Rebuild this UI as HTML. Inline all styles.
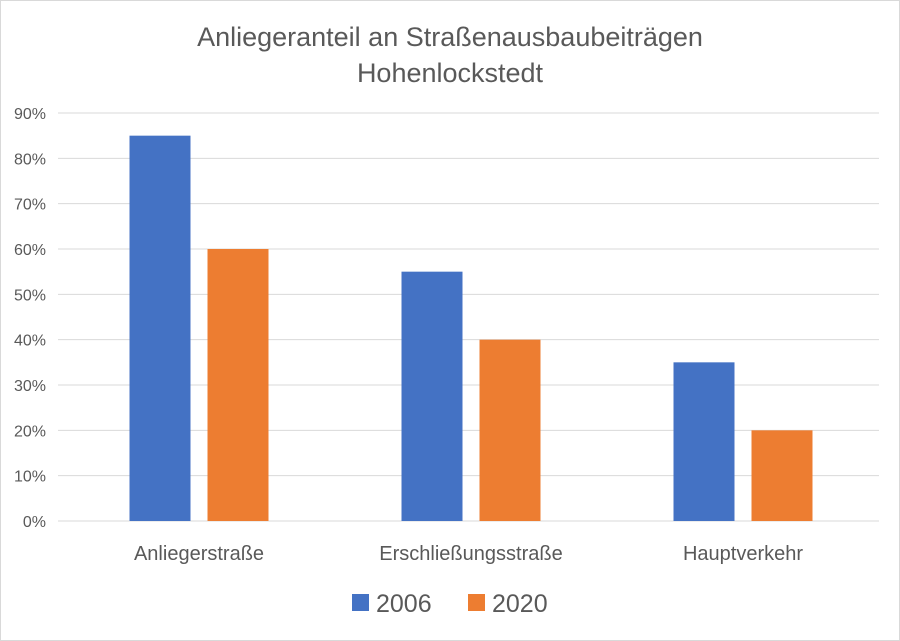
<!DOCTYPE html>
<html><head><meta charset="utf-8"><style>
body{margin:0;background:#fff;}
svg{display:block;font-family:"Liberation Sans",sans-serif;}
</style></head><body>
<svg id="chart" width="900" height="641" viewBox="0 0 900 641">
<rect x="0.5" y="0.5" width="899" height="640" fill="#fff" stroke="#d9d9d9"/>
<text x="450" y="46" text-anchor="middle" font-size="27" fill="#595959">Anlieger­anteil an Straßenausbaubeiträgen</text>
<text x="450" y="82" text-anchor="middle" font-size="27" fill="#595959">Hohenlockstedt</text>
<g id="grid"></g><g id="bars"></g><g id="labels"></g>
<rect x="352" y="594" width="17" height="17" fill="#4472c4"/>
<text x="376" y="612" font-size="25" fill="#595959">2006</text>
<rect x="468" y="594" width="17" height="17" fill="#ed7d31"/>
<text x="492" y="612" font-size="25" fill="#595959">2020</text>
</svg>
<script>
const categories=["Anliegerstraße","Erschließungsstraße","Hauptverkehr"];
const series2006=[85,55,35];
const series2020=[60,40,20];
const yTicks=[0,10,20,30,40,50,60,70,80,90];
const NS="http://www.w3.org/2000/svg";
const left=63,right=879,y0=521,y90=113;
const y=v=>y0-(v/90)*(y0-y90);
const bandW=(right-left)/categories.length;
const cx=i=>left+bandW*(i+0.5);
const bw=61,gap=17;
const grid=document.getElementById('grid'),bars=document.getElementById('bars'),labels=document.getElementById('labels');
function mk(tag,attrs,parent){const e=document.createElementNS(NS,tag);for(const k in attrs)e.setAttribute(k,attrs[k]);parent.appendChild(e);return e;}
yTicks.forEach(t=>{
  const l=mk('line',{x1:left-5,x2:right,y1:y(t),y2:y(t),stroke:'#d9d9d9','stroke-width':1},grid);
  
  
  const tx=mk('text',{x:46,y:y(t)+6,'text-anchor':'end','font-size':16,fill:'#595959'},labels);
  tx.textContent=t+'%';
  
  
});
categories.forEach((c,i)=>{
  const b1=mk('rect',{x:cx(i)-gap/2-bw,y:y(series2006[i]),width:bw,height:y0-y(series2006[i]),fill:'#4472c4'},bars);
  
  
  const b2=mk('rect',{x:cx(i)+gap/2,y:y(series2020[i]),width:bw,height:y0-y(series2020[i]),fill:'#ed7d31'},bars);
  
  
  const tx=mk('text',{x:cx(i),y:560,'text-anchor':'middle','font-size':20,fill:'#595959'},labels);
  tx.textContent=c;
  
  
});
</script>
</body></html>
